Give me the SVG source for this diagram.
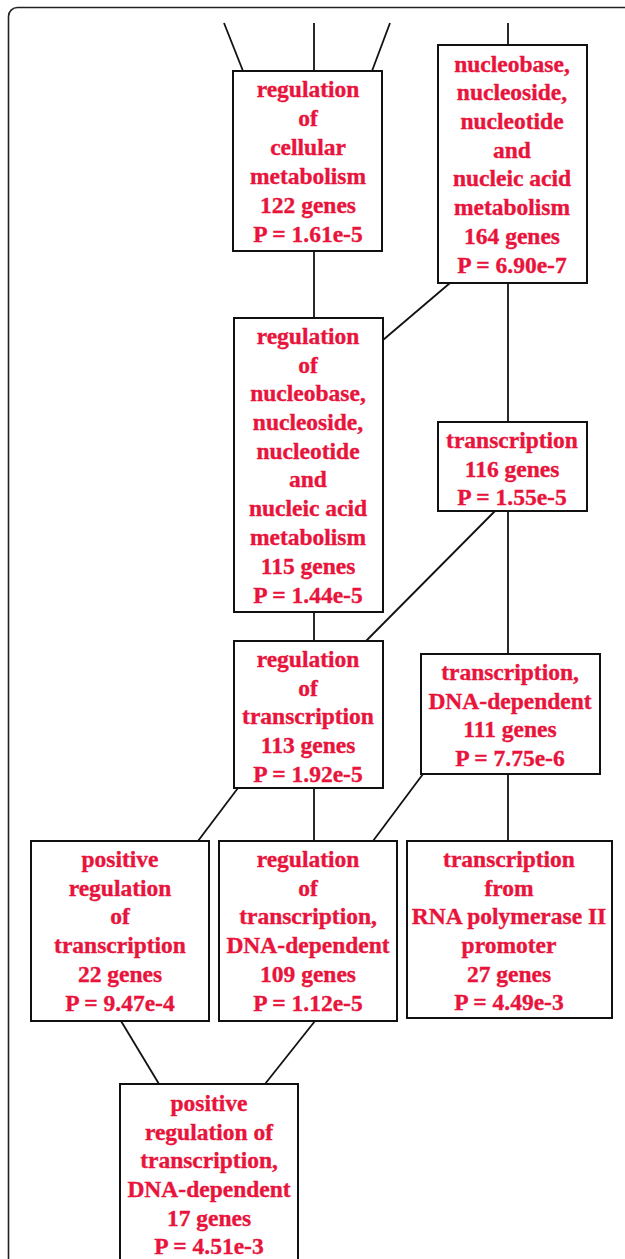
<svg xmlns="http://www.w3.org/2000/svg" width="625" height="1259" viewBox="0 0 625 1259">
  <style>
    .frame { fill: none; stroke: #222; stroke-width: 1.6; }
    .box { fill: #fff; stroke: #111; stroke-width: 2; }
    .edge { stroke: #111; stroke-width: 1.8; fill: none; }
    .lbl { font-family: "Liberation Serif", "Times New Roman", serif; font-weight: bold; font-size: 23.5px; fill: #e8143c; stroke: #e8143c; stroke-width: 0.35; text-anchor: middle; }
  </style>
  <rect width="625" height="1259" fill="#fff"/>
  <rect class="frame" x="8.5" y="7.5" width="700" height="1320" rx="9"/>

  <g id="connectors">
    <line class="edge" x1="224" y1="23" x2="243" y2="71"/>
    <line class="edge" x1="314" y1="23" x2="314" y2="71"/>
    <line class="edge" x1="390" y1="23" x2="372" y2="71"/>
    <line class="edge" x1="508" y1="23" x2="508" y2="45"/>
    <line class="edge" x1="314" y1="251" x2="314" y2="318"/>
    <line class="edge" x1="450" y1="283" x2="383" y2="340"/>
    <line class="edge" x1="508" y1="283" x2="508" y2="422"/>
    <line class="edge" x1="314" y1="612" x2="314" y2="641"/>
    <line class="edge" x1="495" y1="511" x2="366" y2="641"/>
    <line class="edge" x1="508" y1="511" x2="508" y2="654"/>
    <line class="edge" x1="238" y1="788" x2="198" y2="841"/>
    <line class="edge" x1="314" y1="788" x2="314" y2="841"/>
    <line class="edge" x1="423" y1="774" x2="373" y2="841"/>
    <line class="edge" x1="508" y1="774" x2="508" y2="841"/>
    <line class="edge" x1="121" y1="1021" x2="159" y2="1084"/>
    <line class="edge" x1="315" y1="1021" x2="265" y2="1084"/>
  </g>

  <g id="reg-cellular-metabolism">
    <rect class="box" x="233" y="71" width="149" height="180"/>
    <text class="lbl" x="308" y="97">regulation</text>
    <text class="lbl" x="308" y="126">of</text>
    <text class="lbl" x="308" y="155">cellular</text>
    <text class="lbl" x="308" y="184">metabolism</text>
    <text class="lbl" x="308" y="213">122 genes</text>
    <text class="lbl" x="308" y="242">P = 1.61e-5</text>
  </g>

  <g id="nucleic-acid-metabolism">
    <rect class="box" x="438" y="45" width="149" height="238"/>
    <text class="lbl" x="512" y="72">nucleobase,</text>
    <text class="lbl" x="512" y="100">nucleoside,</text>
    <text class="lbl" x="512" y="129">nucleotide</text>
    <text class="lbl" x="512" y="158">and</text>
    <text class="lbl" x="512" y="186">nucleic acid</text>
    <text class="lbl" x="512" y="215">metabolism</text>
    <text class="lbl" x="512" y="244">164 genes</text>
    <text class="lbl" x="512" y="273">P = 6.90e-7</text>
  </g>

  <g id="reg-nucleic-acid-metabolism">
    <rect class="box" x="234" y="318" width="149" height="294"/>
    <text class="lbl" x="308" y="344">regulation</text>
    <text class="lbl" x="308" y="373">of</text>
    <text class="lbl" x="308" y="401">nucleobase,</text>
    <text class="lbl" x="308" y="430">nucleoside,</text>
    <text class="lbl" x="308" y="459">nucleotide</text>
    <text class="lbl" x="308" y="487">and</text>
    <text class="lbl" x="308" y="516">nucleic acid</text>
    <text class="lbl" x="308" y="545">metabolism</text>
    <text class="lbl" x="308" y="574">115 genes</text>
    <text class="lbl" x="308" y="603">P = 1.44e-5</text>
  </g>

  <g id="transcription">
    <rect class="box" x="438" y="422" width="149" height="89"/>
    <text class="lbl" x="512" y="448">transcription</text>
    <text class="lbl" x="512" y="477">116 genes</text>
    <text class="lbl" x="512" y="505">P = 1.55e-5</text>
  </g>

  <g id="reg-transcription">
    <rect class="box" x="234" y="641" width="149" height="147"/>
    <text class="lbl" x="308" y="667">regulation</text>
    <text class="lbl" x="308" y="696">of</text>
    <text class="lbl" x="308" y="724">transcription</text>
    <text class="lbl" x="308" y="753">113 genes</text>
    <text class="lbl" x="308" y="782">P = 1.92e-5</text>
  </g>

  <g id="transcription-dna-dependent">
    <rect class="box" x="421" y="654" width="179" height="120"/>
    <text class="lbl" x="510" y="680">transcription,</text>
    <text class="lbl" x="510" y="709">DNA-dependent</text>
    <text class="lbl" x="510" y="737">111 genes</text>
    <text class="lbl" x="510" y="766">P = 7.75e-6</text>
  </g>

  <g id="pos-reg-transcription">
    <rect class="box" x="31" y="841" width="178" height="180"/>
    <text class="lbl" x="120" y="867">positive</text>
    <text class="lbl" x="120" y="896">regulation</text>
    <text class="lbl" x="120" y="924">of</text>
    <text class="lbl" x="120" y="953">transcription</text>
    <text class="lbl" x="120" y="982">22 genes</text>
    <text class="lbl" x="120" y="1011">P = 9.47e-4</text>
  </g>

  <g id="reg-transcription-dna-dependent">
    <rect class="box" x="219" y="841" width="178" height="180"/>
    <text class="lbl" x="308" y="867">regulation</text>
    <text class="lbl" x="308" y="896">of</text>
    <text class="lbl" x="308" y="924">transcription,</text>
    <text class="lbl" x="308" y="953">DNA-dependent</text>
    <text class="lbl" x="308" y="982">109 genes</text>
    <text class="lbl" x="308" y="1011">P = 1.12e-5</text>
  </g>

  <g id="transcription-rna-pol-ii">
    <rect class="box" x="407" y="841" width="205" height="177"/>
    <text class="lbl" x="509" y="867">transcription</text>
    <text class="lbl" x="509" y="896">from</text>
    <text class="lbl" x="509" y="924">RNA polymerase II</text>
    <text class="lbl" x="509" y="953">promoter</text>
    <text class="lbl" x="509" y="982">27 genes</text>
    <text class="lbl" x="509" y="1010">P = 4.49e-3</text>
  </g>

  <g id="pos-reg-transcription-dna-dependent">
    <rect class="box" x="120" y="1084" width="178" height="190"/>
    <text class="lbl" x="209" y="1111">positive</text>
    <text class="lbl" x="209" y="1140">regulation of</text>
    <text class="lbl" x="209" y="1168">transcription,</text>
    <text class="lbl" x="209" y="1197">DNA-dependent</text>
    <text class="lbl" x="209" y="1226">17 genes</text>
    <text class="lbl" x="209" y="1254">P = 4.51e-3</text>
  </g>
</svg>
